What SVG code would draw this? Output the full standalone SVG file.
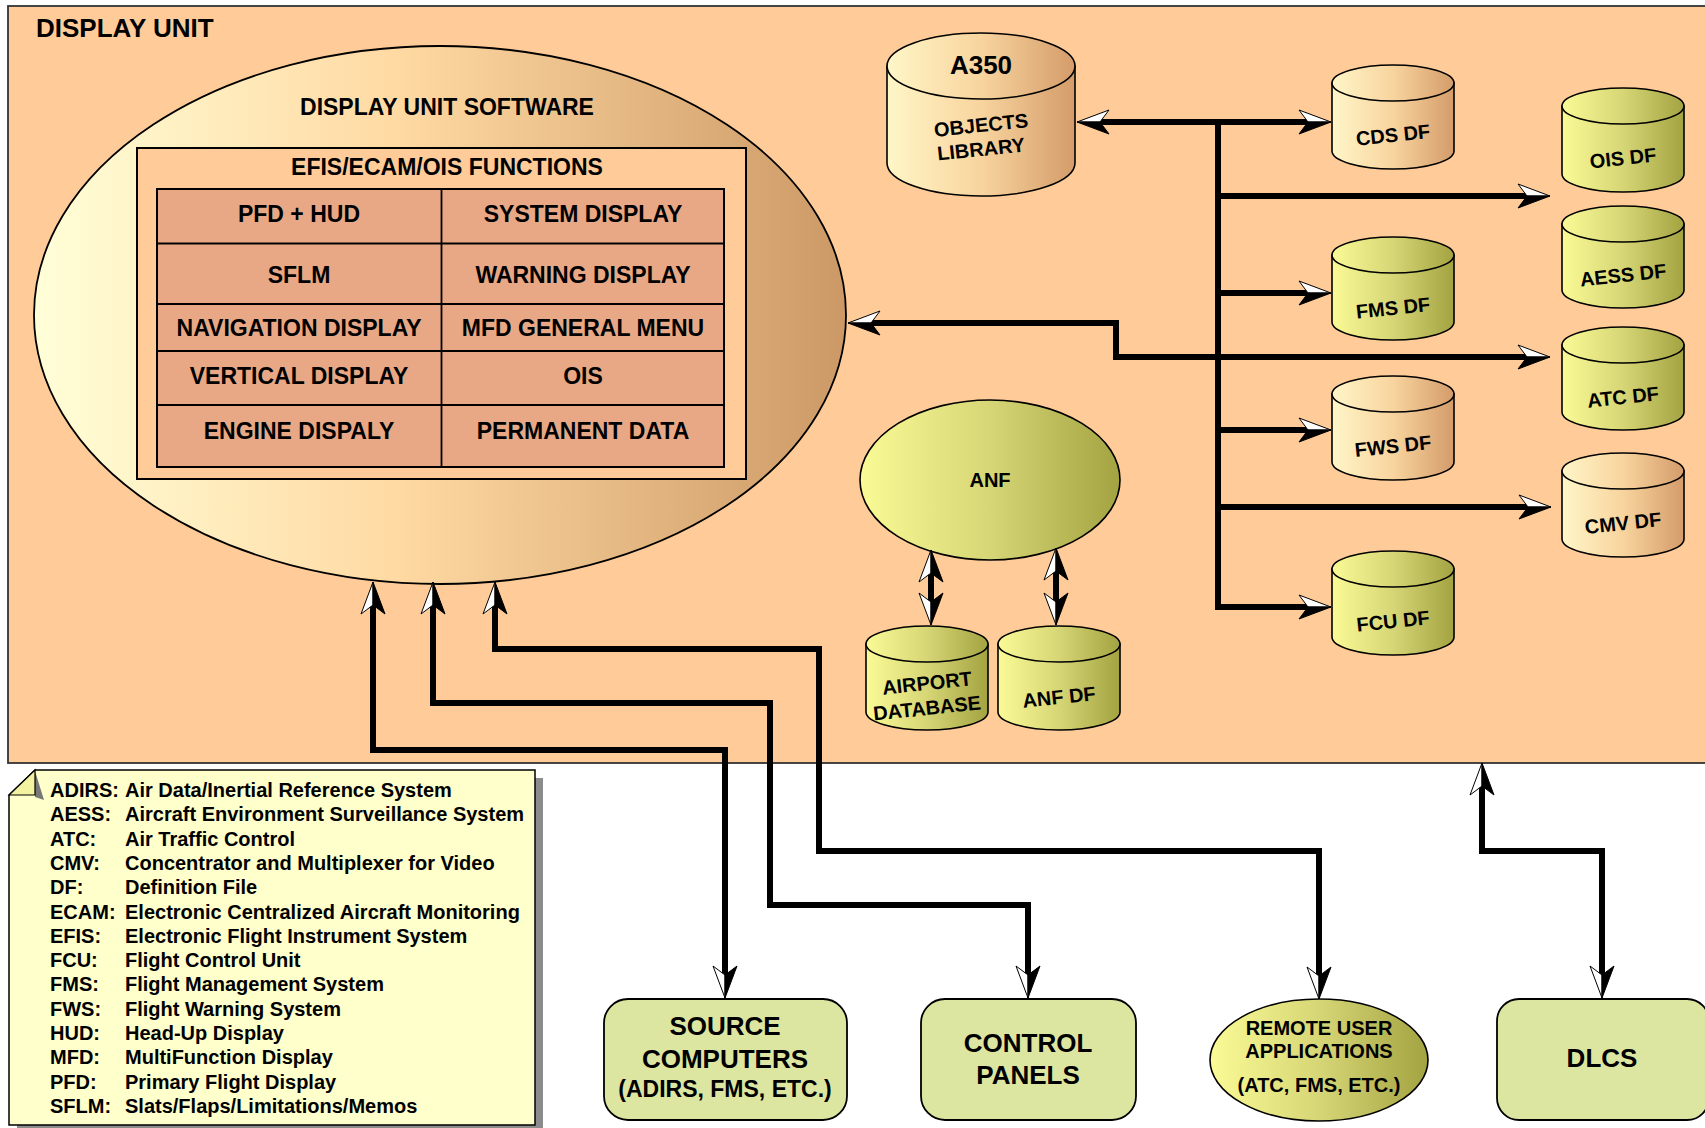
<svg xmlns="http://www.w3.org/2000/svg" width="1705" height="1128" viewBox="0 0 1705 1128">
<style>
  text { font-family: "Liberation Sans", Arial, sans-serif; font-weight: bold; fill: #000; }
  .c { text-anchor: middle; }
  .conn { fill: none; stroke: #000; stroke-width: 6; stroke-linejoin: miter; }
  .ln { stroke: #000; stroke-width: 1.8; }
  .box { fill: #DDE6A0; stroke: #000; stroke-width: 1.8; }
  .tan { fill: url(#gTan); stroke: #000; stroke-width: 1.6; }
  .grn { fill: url(#gGrn); stroke: #000; stroke-width: 1.6; }
  .t20 { font-size: 20px; }
  .t23 { font-size: 23px; }
  .t26 { font-size: 26px; }
  .leg { font-size: 20px; }
</style>
<defs>
  <linearGradient id="gEll" x1="0" y1="0" x2="1" y2="0">
    <stop offset="0" stop-color="#FFFFD8"/>
    <stop offset="0.45" stop-color="#FFD9A2"/>
    <stop offset="1" stop-color="#CC9966"/>
  </linearGradient>
  <linearGradient id="gTan" x1="0" y1="0" x2="1" y2="0">
    <stop offset="0" stop-color="#FFF6C8"/>
    <stop offset="0.5" stop-color="#F8D49E"/>
    <stop offset="1" stop-color="#D49C6A"/>
  </linearGradient>
  <linearGradient id="gGrn" x1="0" y1="0" x2="1" y2="0">
    <stop offset="0" stop-color="#FAFA96"/>
    <stop offset="0.5" stop-color="#D6D676"/>
    <stop offset="1" stop-color="#A3A342"/>
  </linearGradient>
  <marker id="arrA" viewBox="-34 -14 36 28" markerWidth="36" markerHeight="28" refX="-12" refY="0" markerUnits="userSpaceOnUse" orient="auto-start-reverse">
    <path d="M0,0 L-32,-12 L-23,0 Z" fill="#fff" stroke="#000" stroke-width="1"/>
    <path d="M0,0 L-32,12 L-23,0 Z" fill="#000" stroke="#000" stroke-width="1"/>
  </marker>
  <marker id="arrB" viewBox="-34 -14 36 28" markerWidth="36" markerHeight="28" refX="-12" refY="0" markerUnits="userSpaceOnUse" orient="auto-start-reverse">
    <path d="M0,0 L-32,12 L-23,0 Z" fill="#fff" stroke="#000" stroke-width="1"/>
    <path d="M0,0 L-32,-12 L-23,0 Z" fill="#000" stroke="#000" stroke-width="1"/>
  </marker>
</defs>

<rect x="0" y="0" width="1705" height="1128" fill="#fff"/>

<g id="display-unit">
  <rect x="8" y="6" width="1710" height="757" fill="#FFCC99" stroke="#333" stroke-width="1.8"/>
  <text x="36" y="37" class="t26">DISPLAY UNIT</text>
</g>

<g id="display-unit-software">
  <ellipse cx="440" cy="315" rx="406" ry="269" fill="url(#gEll)" stroke="#000" stroke-width="1.8"/>
  <text x="447" y="115" class="c t23">DISPLAY UNIT SOFTWARE</text>
</g>

<g id="efis-functions">
  <rect x="137" y="148" width="609" height="331" fill="#FFCC99" stroke="#000" stroke-width="2"/>
  <text x="447" y="175" class="c t23">EFIS/ECAM/OIS FUNCTIONS</text>
  <rect x="157" y="189" width="567" height="278" fill="#E9A885" stroke="#000" stroke-width="2"/>
  <line class="ln" x1="441.5" y1="189" x2="441.5" y2="467"/>
  <line class="ln" x1="157" y1="243.5" x2="724" y2="243.5"/>
  <line class="ln" x1="157" y1="304" x2="724" y2="304"/>
  <line class="ln" x1="157" y1="351" x2="724" y2="351"/>
  <line class="ln" x1="157" y1="405" x2="724" y2="405"/>
  <text x="299" y="222" class="c t23">PFD + HUD</text>
  <text x="583" y="222" class="c t23">SYSTEM DISPLAY</text>
  <text x="299" y="283" class="c t23">SFLM</text>
  <text x="583" y="283" class="c t23">WARNING DISPLAY</text>
  <text x="299" y="336" class="c t23">NAVIGATION DISPLAY</text>
  <text x="583" y="336" class="c t23">MFD GENERAL MENU</text>
  <text x="299" y="384" class="c t23">VERTICAL DISPLAY</text>
  <text x="583" y="384" class="c t23">OIS</text>
  <text x="299" y="439" class="c t23">ENGINE DISPALY</text>
  <text x="583" y="439" class="c t23">PERMANENT DATA</text>
</g>

<g id="a350-objects-library">
  <path class="tan" d="M887,66 V163 A94,33 0 0 0 1075,163 V66 Z"/>
  <ellipse class="tan" cx="981" cy="66" rx="94" ry="33"/>
  <text x="981" y="74" class="c t26">A350</text>
  <text x="981" y="132" class="c t20" transform="rotate(-6 981 125)">OBJECTS</text>
  <text x="981" y="156" class="c t20" transform="rotate(-6 981 149)">LIBRARY</text>
</g>

<g id="cds-df">
  <path class="tan" d="M1332,83 V151 A61,18 0 0 0 1454,151 V83 Z"/>
  <ellipse class="tan" cx="1393" cy="83" rx="61" ry="18"/>
  <text x="1393" y="142" class="c t20" transform="rotate(-6 1393 135)">CDS DF</text>
</g>
<g id="fms-df">
  <path class="grn" d="M1332,255 V322 A61,18 0 0 0 1454,322 V255 Z"/>
  <ellipse class="grn" cx="1393" cy="255" rx="61" ry="18"/>
  <text x="1393" y="315" class="c t20" transform="rotate(-6 1393 308)">FMS DF</text>
</g>
<g id="fws-df">
  <path class="tan" d="M1332,394 V462 A61,18 0 0 0 1454,462 V394 Z"/>
  <ellipse class="tan" cx="1393" cy="394" rx="61" ry="18"/>
  <text x="1393" y="453" class="c t20" transform="rotate(-6 1393 446)">FWS DF</text>
</g>
<g id="fcu-df">
  <path class="grn" d="M1332,569 V637 A61,18 0 0 0 1454,637 V569 Z"/>
  <ellipse class="grn" cx="1393" cy="569" rx="61" ry="18"/>
  <text x="1393" y="628" class="c t20" transform="rotate(-6 1393 621)">FCU DF</text>
</g>
<g id="ois-df">
  <path class="grn" d="M1562,106 V174 A61,18 0 0 0 1684,174 V106 Z"/>
  <ellipse class="grn" cx="1623" cy="106" rx="61" ry="18"/>
  <text x="1623" y="165" class="c t20" transform="rotate(-6 1623 158)">OIS DF</text>
</g>
<g id="aess-df">
  <path class="grn" d="M1562,224 V290 A61,18 0 0 0 1684,290 V224 Z"/>
  <ellipse class="grn" cx="1623" cy="224" rx="61" ry="18"/>
  <text x="1623" y="282" class="c t20" transform="rotate(-6 1623 275)">AESS DF</text>
</g>
<g id="atc-df">
  <path class="grn" d="M1562,345 V412 A61,18 0 0 0 1684,412 V345 Z"/>
  <ellipse class="grn" cx="1623" cy="345" rx="61" ry="18"/>
  <text x="1623" y="404" class="c t20" transform="rotate(-6 1623 397)">ATC DF</text>
</g>
<g id="cmv-df">
  <path class="tan" d="M1562,471 V539 A61,18 0 0 0 1684,539 V471 Z"/>
  <ellipse class="tan" cx="1623" cy="471" rx="61" ry="18"/>
  <text x="1623" y="530" class="c t20" transform="rotate(-6 1623 523)">CMV DF</text>
</g>

<g id="anf">
  <ellipse class="grn" cx="990" cy="480" rx="130" ry="80"/>
  <text x="990" y="487" class="c t20">ANF</text>
</g>
<g id="airport-database">
  <path class="grn" d="M866,644 V712 A61,18 0 0 0 988,712 V644 Z"/>
  <ellipse class="grn" cx="927" cy="644" rx="61" ry="18"/>
  <text x="927" y="690" class="c t20" transform="rotate(-6 927 683)">AIRPORT</text>
  <text x="927" y="715" class="c t20" transform="rotate(-6 927 708)">DATABASE</text>
</g>
<g id="anf-df">
  <path class="grn" d="M998,644 V712 A61,18 0 0 0 1120,712 V644 Z"/>
  <ellipse class="grn" cx="1059" cy="644" rx="61" ry="18"/>
  <text x="1059" y="704" class="c t20" transform="rotate(-6 1059 697)">ANF DF</text>
</g>

<g id="legend">
  <path d="M43,778 H543 V1133 H17 V803 Z" fill="#8C8C8C"/>
  <path d="M35,770 H535 V1125 H9 V795 Z" fill="#FFFFCC" stroke="#000" stroke-width="1.5"/>
  <path d="M35,771 L44,800 L35,797 Z" fill="#777"/>
  <path d="M9,795 L35,770 L35,795 Z" fill="#F2F2A0" stroke="#000" stroke-width="1.2"/>
  <g class="leg">
    <text x="50" y="797">ADIRS:</text><text x="125" y="797">Air Data/Inertial Reference System</text>
    <text x="50" y="821.3">AESS:</text><text x="125" y="821.3">Aircraft Environment Surveillance System</text>
    <text x="50" y="845.6">ATC:</text><text x="125" y="845.6">Air Traffic Control</text>
    <text x="50" y="869.9">CMV:</text><text x="125" y="869.9">Concentrator and Multiplexer for Video</text>
    <text x="50" y="894.2">DF:</text><text x="125" y="894.2">Definition File</text>
    <text x="50" y="918.5">ECAM:</text><text x="125" y="918.5">Electronic Centralized Aircraft Monitoring</text>
    <text x="50" y="942.8">EFIS:</text><text x="125" y="942.8">Electronic Flight Instrument System</text>
    <text x="50" y="967.1">FCU:</text><text x="125" y="967.1">Flight Control Unit</text>
    <text x="50" y="991.4">FMS:</text><text x="125" y="991.4">Flight Management System</text>
    <text x="50" y="1015.7">FWS:</text><text x="125" y="1015.7">Flight Warning System</text>
    <text x="50" y="1040">HUD:</text><text x="125" y="1040">Head-Up Display</text>
    <text x="50" y="1064.3">MFD:</text><text x="125" y="1064.3">MultiFunction Display</text>
    <text x="50" y="1088.6">PFD:</text><text x="125" y="1088.6">Primary Flight Display</text>
    <text x="50" y="1112.9">SFLM:</text><text x="125" y="1112.9">Slats/Flaps/Limitations/Memos</text>
  </g>
</g>

<g id="source-computers">
  <rect class="box" x="604" y="999" width="243" height="121" rx="24"/>
  <text x="725" y="1035" class="c t26">SOURCE</text>
  <text x="725" y="1068" class="c t26">COMPUTERS</text>
  <text x="725" y="1097" class="c t23">(ADIRS, FMS, ETC.)</text>
</g>
<g id="control-panels">
  <rect class="box" x="921" y="999" width="215" height="121" rx="24"/>
  <text x="1028" y="1052" class="c t26">CONTROL</text>
  <text x="1028" y="1084" class="c t26">PANELS</text>
</g>
<g id="remote-user-applications">
  <ellipse class="grn" cx="1319" cy="1060" rx="109" ry="61"/>
  <text x="1319" y="1035" class="c t20">REMOTE USER</text>
  <text x="1319" y="1058" class="c t20">APPLICATIONS</text>
  <text x="1319" y="1092" class="c t20">(ATC, FMS, ETC.)</text>
</g>
<g id="dlcs">
  <rect class="box" x="1497" y="999" width="212" height="121" rx="22"/>
  <text x="1602" y="1067" class="c t26">DLCS</text>
</g>

<g id="connectors">
  <path class="conn" d="M1218,122 H1089" marker-end="url(#arrB)"/>
  <path class="conn" d="M1218,122 H1319" marker-end="url(#arrA)"/>
  <path class="conn" d="M1218,119 V607 H1319" marker-end="url(#arrA)"/>
  <path class="conn" d="M1218,196 H1538" marker-end="url(#arrA)"/>
  <path class="conn" d="M1218,293 H1319" marker-end="url(#arrA)"/>
  <path class="conn" d="M1218,430 H1319" marker-end="url(#arrA)"/>
  <path class="conn" d="M1218,507 H1539" marker-end="url(#arrA)"/>
  <path class="conn" d="M1116,340 V323 H860" marker-end="url(#arrB)"/>
  <path class="conn" d="M1116,340 V357 H1538" marker-end="url(#arrA)"/>
  <path class="conn" d="M931,588 V562" marker-end="url(#arrA)"/>
  <path class="conn" d="M931,588 V613" marker-end="url(#arrB)"/>
  <path class="conn" d="M1056,588 V560" marker-end="url(#arrA)"/>
  <path class="conn" d="M1056,588 V613" marker-end="url(#arrB)"/>
  <path class="conn" d="M373,594 V750 H725 V986" marker-start="url(#arrA)" marker-end="url(#arrB)"/>
  <path class="conn" d="M433,594 V703 H770 V905 H1028 V986" marker-start="url(#arrA)" marker-end="url(#arrB)"/>
  <path class="conn" d="M495,594 V649 H819 V851 H1319 V987" marker-start="url(#arrA)" marker-end="url(#arrB)"/>
  <path class="conn" d="M1482,775 V851 H1602 V986" marker-start="url(#arrA)" marker-end="url(#arrB)"/>
</g>
</svg>
